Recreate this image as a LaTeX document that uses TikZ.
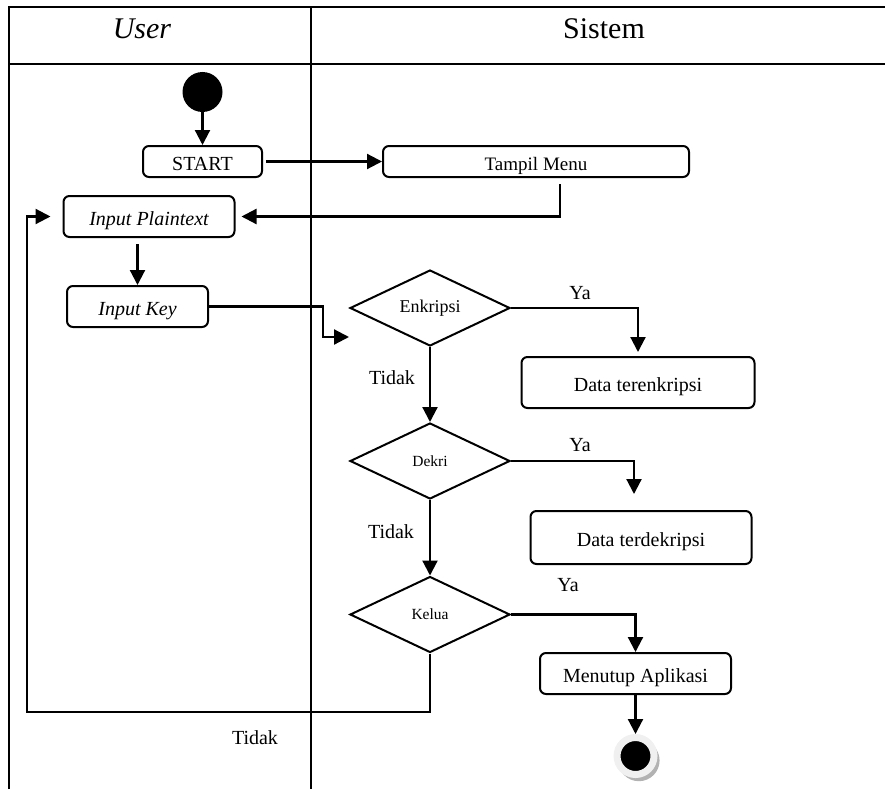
\documentclass[tikz,border=0pt]{standalone}
\usepackage{fontspec}
\setmainfont{Liberation Serif}
\usetikzlibrary{
	positioning,
	arrows.meta,
	shapes.geometric,
	shadows}
\tikzset{
	swimlane/.style={line width=2.2pt},
	act/.style={
		rectangle,
		rounded corners=6pt,
		draw,
		line width=2pt,
		inner sep=0pt,
		text height=18pt,
		text depth=0pt,
		font=\fontsize{20}{24}\selectfont
	},
	choice/.style={
		diamond,
		draw,
		line width=2pt,
		inner sep=0pt,
		aspect=2,
		minimum width=160pt,
		minimum height=76pt
	},
	guard/.style={font=\fontsize{20}{24}\selectfont},
	lanehead/.style={font=\fontsize{30}{36}\selectfont},
	flow/.style={line width=2.2pt, -{Triangle[length=15pt, width=15pt]}},
	startdot/.style={
		circle,
		fill=black,
		inner sep=0pt,
		minimum size=40pt
	},
	enddot/.style={
		circle,
		fill=black,
		draw=gray!12,
		line width=7pt,
		inner sep=0pt,
		minimum size=37pt,
		drop shadow={shadow xshift=3pt, shadow yshift=-4pt, shadow scale=1.12, fill=gray!60, opacity=1}
	},
}

\begin{document}
\begin{tikzpicture}[x=1pt, y=-1pt]
	\useasboundingbox (0,0) rectangle (885,789);
	% lanes
	\draw[swimlane] (9,789) -- (9,7) -- (885,7);
	\draw[swimlane] (9,64) -- (885,64);
	\draw[swimlane] (311,7) -- (311,789);
	\node[lanehead, font=\fontsize{30}{36}\selectfont\itshape] (user) at (142,29) {User};
	\node[lanehead] (sistem) at (604,29) {Sistem};
%
	\node[startdot]                                       (start)    at (202.5,92)    {};
	\node[act, minimum width=119pt, minimum height=31pt]  (startbox) at (202.5,161.5) {START};
	\node[act, minimum width=306pt, minimum height=31pt, font=\fontsize{19}{23}\selectfont] (menu) at (536,161.5) {Tampil Menu};
	\node[act, minimum width=171pt, minimum height=41pt, font=\fontsize{20}{24}\selectfont\itshape] (plain) at (149,216.5) {Input Plaintext};
	\node[act, minimum width=141pt, minimum height=41pt, font=\fontsize{20}{24}\selectfont\itshape] (key) at (137.5,306.5) {Input Key};
	\node[choice, font=\fontsize{18}{22}\selectfont]      (enkripsi) at (430,308)     {Enkripsi};
	\node[act, minimum width=233pt, minimum height=51pt]  (enc)      at (638,382.5)   {Data terenkripsi};
	\node[choice, font=\fontsize{15.5}{19}\selectfont]    (dekri)    at (430,461)     {Dekri};
	\node[act, minimum width=221pt, minimum height=53pt]  (dec)      at (641,537.5)   {Data terdekripsi};
	\node[choice, font=\fontsize{15.5}{19}\selectfont]    (kelua)    at (430,614.5)   {Kelua};
	\node[act, minimum width=191pt, minimum height=41pt]  (menutup)  at (635.5,673.5) {Menutup Aplikasi};
	\node[enddot]                                         (end)      at (635.5,756)   {};
	\node[guard] (ya1)    at (580,293) {Ya};
	\node[guard] (ya2)    at (580,445) {Ya};
	\node[guard] (ya3)    at (568,585) {Ya};
	\node[guard] (tidak1) at (392,378) {Tidak};
	\node[guard] (tidak2) at (391,532) {Tidak};
	\node[guard] (tidak3) at (255,738) {Tidak};
	\coordinate (m1)   at (560,184);
	\coordinate (k1)   at (323,337);
	\coordinate (back) at (27,712);
%
	\draw[flow] (start) -- (startbox);
	\draw[flow, shorten <=3pt] (startbox) -- (menu);
	\draw[flow, shorten >=6pt] (m1) |- (plain.east);
	\draw[flow, shorten <=6pt] (plain.south -| key) -- (key);
	\draw[flow] (key.east) -| (k1) -- (k1 -| enkripsi.west);
	\draw[flow, shorten >=4pt] (enkripsi.east) -| (enc);
	\draw[flow] (enkripsi) -- (dekri);
	\draw[flow, shorten >=16pt] (dekri.east) -| ([xshift=-7pt]dec.north);
	\draw[flow] (dekri) -- (kelua);
	\draw[flow] (kelua.east) -| (menutup);
	\draw[flow] (menutup) -- (end);
	\draw[flow, shorten >=12pt] (kelua.south) |- (back) |- (plain.west);
\end{tikzpicture}
\end{document}
